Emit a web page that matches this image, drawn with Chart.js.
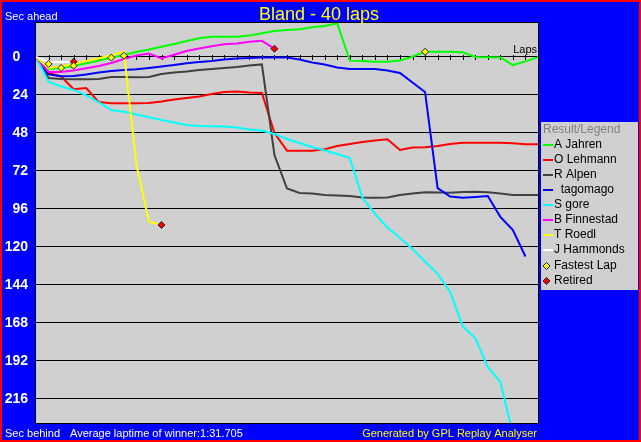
<!DOCTYPE html>
<html>
<head>
<meta charset="utf-8">
<script src="https://cdn.jsdelivr.net/npm/chart.js@4/dist/chart.umd.min.js"></script>
<style>
  html, body { margin: 0; padding: 0; background: #0000ff; }
  #wrap { width: 641px; height: 442px; position: relative; }
</style>
</head>
<body>
<div id="wrap"><canvas id="c"></canvas></div>
<script>
// GPL Replay Analyser – gap (sec) to the winner's average pace, lap by lap.
// Positive = behind (y axis reversed), negative = ahead.

const title = "Bland - 40 laps";
const laps = [0, 1, 2, 3, 4, 5, 6, 7, 8, 9, 10, 11, 12, 13, 14, 15, 16, 17, 18, 19, 20,
              21, 22, 23, 24, 25, 26, 27, 28, 29, 30, 31, 32, 33, 34, 35, 36, 37, 38, 39, 40];
const yTicks = [0, 24, 48, 72, 96, 120, 144, 168, 192, 216];

const drivers = ["A Jahren", "O Lehmann", "R Alpen", "  tagomago", "S gore",
                 "B Finnestad", "T Roedl", "J Hammonds"];

// gap per lap (index = lap); arrays stop where the driver stopped
const jahren = [0, 7.6, 6.9, 5.7, 4.0, 2.3, 0.4, -1.3, -3.2, -4.7, -6.5, -8.2, -10.1, -11.8,
  -12.8, -12.8, -12.8, -13.5, -15.0, -16.4, -17.1, -17.5, -18.8, -19.6, -21.3, 2.3, 2.5,
  3.0, 3.0, 2.2, -0.2, -3.3, -3.3, -3.3, -3.0, 0.0, 0.2, 0.3, 5.1, 2.8, 0.2];
const lehmann = [0, 10.1, 12.3, 20.4, 19.6, 28.5, 29.2, 29.2, 29.2, 29.1, 28.1, 26.8, 25.9,
  25.0, 23.4, 22.1, 21.8, 22.4, 22.7, 48.0, 59.2, 59.2, 59.2, 58.3, 56.2, 55.0, 53.7, 52.7,
  52.0, 58.7, 57.2, 57.0, 56.2, 55.0, 54.1, 54.1, 54.1, 54.1, 54.5, 55.1, 55.1];
const alpen = [0, 13.3, 13.9, 14.1, 14.1, 13.9, 12.6, 12.6, 12.8, 12.6, 10.7, 9.8, 9.2, 8.2,
  7.6, 7.0, 6.3, 5.4, 4.7, 61.9, 83.1, 85.9, 86.2, 87.2, 87.5, 87.8, 88.8, 88.9, 88.8, 87.2,
  86.2, 85.5, 85.6, 85.7, 85.3, 85.1, 85.5, 86.2, 87.2, 87.2, 87.2];
const tagomago = [0, 11.0, 12.2, 12.0, 11.0, 9.8, 8.8, 8.2, 7.8, 6.9, 6.0, 5.1, 4.0, 3.2, 2.5,
  1.6, 0.9, 0.6, 0.4, 0.3, 0.4, 1.6, 3.5, 4.7, 6.6, 7.6, 7.6, 7.6, 8.5, 10.1, 16.1, 22.1,
  82.8, 88.1, 88.9, 88.4, 87.8, 101.0, 109.3, 126.0];
const gore = [0, 15.8, 18.6, 20.8, 24.3, 28.7, 33.5, 34.6, 36.3, 38.1, 39.8, 41.4, 43.0, 43.6,
  43.8, 43.9, 44.5, 45.8, 46.4, 48.6, 51.8, 54.3, 56.9, 59.1, 61.3, 63.8, 88.8, 99.0, 107.7,
  114.3, 121.3, 129.2, 137.0, 148.4, 170.0, 177.5, 195.8, 205.3, 238.0];
const finnestad = [0, 9.5, 9.5, 8.5, 7.1, 5.7, 3.8, 1.3, -0.9, -2.2, 0.9, -1.4, -3.8, -5.4,
  -6.8, -8.0, -8.5, -9.6, -10.2, -5.2];
const roedl = [0, 6.9, 6.0, 4.4, 2.5, 0.8, -1.1, -3.3, 68.0, 104.0, 106.1];
const hammonds = [0, 3.0, 3.3, 3.0];

const fastLaps = [1, 2, 3, 6, 7, 31];
const fastGaps = [4.4, 6.9, 5.5, 0.4, -0.8, -3.3];
const retiredLaps = [3, 10, 19];
const retiredGaps = [3.0, 106.1, -5.2];

const series = [jahren, lehmann, alpen, tagomago, gore, finnestad, roedl, hammonds];
const colors = ["#00ff00", "#ff0000", "#404040", "#0000ff", "#00ffff", "#ff00ff", "#ffff00", "#ffffff"];
const PLOT_BG = "#d0d0d0";
const FONT = "'Liberation Sans', Arial, sans-serif";

const pts = (xs, ys) => ys.map((y, i) => ({ x: xs[i], y }));

const datasets = series.map((s, i) => ({
  label: drivers[i], data: pts(laps, s), borderColor: colors[i], borderWidth: 2,
  pointRadius: 0, tension: 0, fill: false, order: -i,
}));
const marker = (label, xs, ys, col) => ({
  label, data: pts(xs, ys), showLine: false, pointStyle: "rectRot", pointRadius: 3.5,
  pointBackgroundColor: col, pointBorderColor: "#202020", pointBorderWidth: 1, order: -20,
});
datasets.push(marker("Fastest Lap", fastLaps, fastGaps, "#ffff00"));
datasets.push(marker("Retired", retiredLaps, retiredGaps, "#ff0000"));

// background, frame, lap ticks, texts and the legend box
const gplDecor = {
  id: "gplDecor",
  beforeDraw(chart) {
    const { ctx, chartArea: a } = chart;
    ctx.save();
    ctx.fillStyle = "#ff0000"; ctx.fillRect(0, 0, 641, 442);
    ctx.fillStyle = "#0000ff"; ctx.fillRect(2, 2, 637, 438);
    ctx.fillStyle = PLOT_BG; ctx.fillRect(a.left, a.top, a.right - a.left, a.bottom - a.top);
    ctx.restore();
  },
  beforeDatasetsDraw(chart) {
    const { ctx, scales: { x, y } } = chart;
    const y0 = Math.round(y.getPixelForValue(0));
    ctx.save();
    ctx.strokeStyle = "#000"; ctx.lineWidth = 1;
    ctx.beginPath();
    for (const l of laps) {
      if (l === laps[0] || l === laps[laps.length - 1]) continue;
      const px = Math.round(x.getPixelForValue(l)) + 0.5;
      ctx.moveTo(px, y0 - 2); ctx.lineTo(px, y0 + 3);
    }
    ctx.stroke();
    ctx.fillStyle = "#000"; ctx.font = "11px " + FONT; ctx.textAlign = "right";
    ctx.fillText("Laps", 537, 53);
    ctx.restore();
  },
  afterDraw(chart) {
    const { ctx, chartArea: a } = chart;
    ctx.save();
    ctx.strokeStyle = "#000"; ctx.lineWidth = 1;
    ctx.strokeRect(a.left - 0.5, a.top + 0.5, a.right - a.left + 1, a.bottom - a.top);

    ctx.textAlign = "center"; ctx.fillStyle = "#ffff00"; ctx.font = "18px " + FONT;
    ctx.fillText(title, 319, 20);
    ctx.textAlign = "left"; ctx.fillStyle = "#ffffff"; ctx.font = "11px " + FONT;
    ctx.fillText("Sec ahead", 5, 20);
    ctx.fillText("Sec behind", 5, 437);
    ctx.fillText("Average laptime of winner:1:31.705", 70, 437);
    ctx.textAlign = "right"; ctx.fillStyle = "#ffff00";
    ctx.fillText("Generated by GPL Replay Analyser", 537, 437);

    // legend box
    ctx.fillStyle = PLOT_BG; ctx.fillRect(541, 122, 97, 168);
    ctx.textAlign = "left"; ctx.textBaseline = "middle"; ctx.font = "12px " + FONT;
    ctx.fillStyle = "#808080"; ctx.fillText("Result/Legend", 543, 130);
    drivers.forEach((name, i) => {
      const yy = 145 + 15 * i;
      ctx.strokeStyle = colors[i]; ctx.lineWidth = 2;
      ctx.beginPath(); ctx.moveTo(543, yy); ctx.lineTo(553, yy); ctx.stroke();
      ctx.fillStyle = "#000"; ctx.fillText(name, 554, yy);
    });
    [["Fastest Lap", "#ffff00", 266], ["Retired", "#ff0000", 281]].forEach(([name, col, yy]) => {
      ctx.beginPath();
      ctx.moveTo(546.5, yy - 3.5); ctx.lineTo(550, yy); ctx.lineTo(546.5, yy + 3.5); ctx.lineTo(543, yy);
      ctx.closePath();
      ctx.fillStyle = col; ctx.fill(); ctx.strokeStyle = "#202020"; ctx.lineWidth = 1; ctx.stroke();
      ctx.fillStyle = "#000"; ctx.fillText(name, 554, yy);
    });
    ctx.restore();
  },
};

new Chart(document.getElementById("c"), {
  type: "line",
  data: { datasets },
  options: {
    responsive: true, maintainAspectRatio: false, animation: false, events: [],
    layout: { padding: { left: 0, right: 103, top: 22, bottom: 19 } },
    plugins: { legend: { display: false }, title: { display: false }, tooltip: { enabled: false } },
    scales: {
      x: { type: "linear", min: 0, max: 40, display: false },
      y: {
        reverse: true, min: -22.1, max: 231.2,
        afterFit: (s) => { s.width = 36; },
        afterBuildTicks: (s) => { s.ticks = yTicks.map((v) => ({ value: v })); },
        border: { display: false },
        grid: { color: "#000", lineWidth: 1, drawTicks: false },
        ticks: {
          color: "#ffffff", padding: 8, font: { family: FONT, size: 14, weight: "bold" },
          callback: (v) => (v === 0 ? "0  " : String(v)),
        },
      },
    },
  },
  plugins: [gplDecor],
});
</script>
</body>
</html>
